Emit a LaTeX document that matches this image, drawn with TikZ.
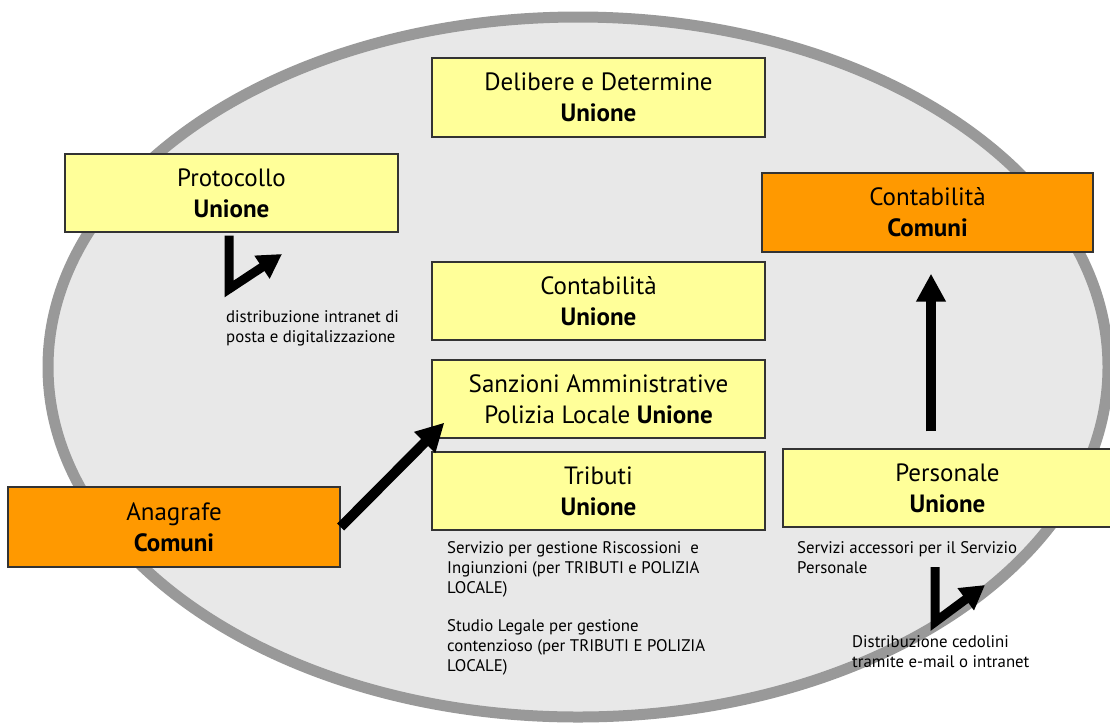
\documentclass[tikz,border=0pt]{standalone}
\usepackage{fontspec}
\setmainfont{PT Sans}
\usetikzlibrary{arrows.meta}
\definecolor{ellfill}{HTML}{E8E8E8}
\definecolor{ellline}{HTML}{999999}
\definecolor{boxyel}{HTML}{FFFF99}
\definecolor{boxorg}{HTML}{FF9900}
\definecolor{boxline}{HTML}{333333}
\begin{document}
\begin{tikzpicture}[x=1pt,y=-1pt,
 ybox/.style={draw=boxline, line width=1.3pt, fill=boxyel, inner sep=0pt, align=center, font=\fontsize{25}{31}\selectfont},
 obox/.style={ybox, fill=boxorg},
 note/.style={anchor=base west, align=left, inner sep=0pt, font=\fontsize{16.8}{20}\selectfont},
 bigarrow/.style={line width=10pt, -{Triangle[width=28pt,length=28pt]}},
 bentarrow/.style={line width=9pt, line join=miter, -{Triangle[width=26pt,length=24pt]}},
 ]
\useasboundingbox (0,0) rectangle (1110,724);
\fill[white] (0,0) rectangle (1110,724);
\draw[ellline, fill=ellfill, line width=11pt] (578,367) ellipse [x radius=530pt, y radius=350pt];

\node[ybox, minimum width=333pt, minimum height=79pt] (delib) at (598.5,97.5) {Delibere e Determine\\\textbf{Unione}};
\node[ybox, minimum width=333pt, minimum height=78pt] (proto) at (231.5,193) {Protocollo\\\textbf{Unione}};
\node[obox, minimum width=331pt, minimum height=79pt] (ccom) at (927.5,212.5) {Contabilità\\\textbf{Comuni}};
\node[ybox, minimum width=333pt, minimum height=78pt] (cuni) at (598.5,301) {Contabilità\\\textbf{Unione}};
\node[ybox, minimum width=333pt, minimum height=78pt] (sanz) at (598.5,399) {Sanzioni Amministrative\\Polizia Locale \textbf{Unione}};
\node[ybox, minimum width=333pt, minimum height=78pt] (trib) at (598.5,491) {Tributi\\\textbf{Unione}};
\node[ybox, minimum width=329pt, minimum height=78pt] (pers) at (947.5,488) {Personale\\\textbf{Unione}};
\node[obox, minimum width=332pt, minimum height=80pt] (anag) at (174,527) {Anagrafe\\\textbf{Comuni}};

\node[note] (nproto) at (226,342) {distribuzione intranet di\\posta e digitalizzazione};
\node[note] (ntrib1) at (447,593) {Servizio per gestione Riscossioni\ \ e\\Ingiunzioni (per TRIBUTI e POLIZIA\\LOCALE)};
\node[note] (ntrib2) at (447,671) {Studio Legale per gestione\\contenzioso (per TRIBUTI E POLIZIA\\LOCALE)};
\node[note] (npers1) at (797,573) {Servizi accessori per il Servizio\\Personale};
\node[note] (npers2) at (852,667) {Distribuzione cedolini\\tramite e-mail o intranet};

\draw[bigarrow] (anag.east) -- ([xshift=13pt,yshift=16pt]sanz.south west);
\draw[bigarrow] ([xshift=-16.5pt,yshift=17pt]pers.north) -- ([xshift=3.5pt,yshift=-21pt]ccom.south);

\coordinate (pbend) at (229,289);
\coordinate (ptip) at (282,254);
\draw[bentarrow] ([xshift=-2.5pt,yshift=-3pt]proto.south) -- (pbend) -- (ptip);

\coordinate (qtop) at (935,567);
\coordinate (qbend) at (935,622);
\coordinate (qtip) at (985,585);
\draw[bentarrow] (qtop) -- (qbend) -- (qtip);
\end{tikzpicture}
\end{document}
